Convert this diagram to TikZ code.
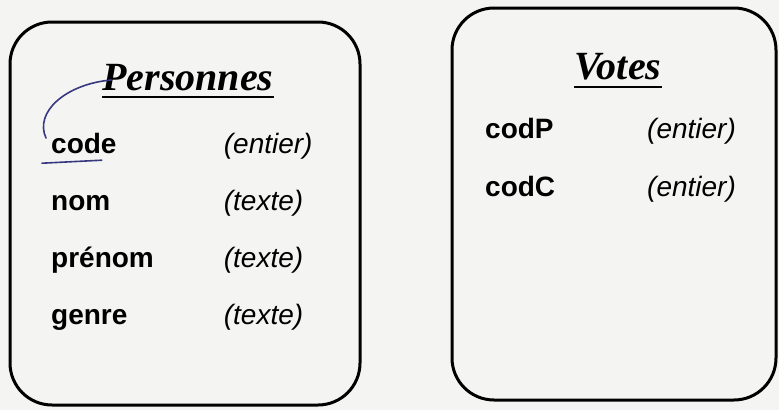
\documentclass[tikz,border=0pt]{standalone}
\usepackage{fontspec}
\setmainfont{Liberation Serif}
\setsansfont{Liberation Sans}
\usepackage{tikz}
\usetikzlibrary{matrix, positioning, calc}
\definecolor{paper}{rgb}{0.955,0.955,0.95}
\definecolor{ink}{rgb}{0.22,0.22,0.50}
\tikzstyle{table} = [draw, line width=3pt, rounded corners=42pt]
\tikzstyle{title} = [inner sep=0pt, anchor=base, font=\fontsize{40}{42}\selectfont\bfseries\itshape]
\tikzstyle{field} = [inner sep=0pt, anchor=west, text height=21pt, text depth=7pt]
\tikzstyle{champ} = [field, font=\fontsize{28}{30}\sffamily\bfseries]
\tikzstyle{type} = [field, font=\fontsize{28}{30}\sffamily\itshape]
\tikzstyle{pen} = [draw=ink, line width=1.6pt, line cap=round]

\begin{document}
\begin{tikzpicture}[x=1pt, y=-1pt]
    \useasboundingbox[fill=paper] (0,0) rectangle (779,410);
    %%% Personnes:
    \draw[table] (10,22) rectangle (360,405);
    \node[title] (ptitle) at (188,90) {Personnes};
    \draw[line width=2.6pt] ([yshift=-7pt]ptitle.base west) -- ([yshift=-7pt]ptitle.base east);
    \matrix[anchor=north west, row sep=29pt, column sep=70pt, inner sep=0pt] at (51,132) {
        \node[champ] (code) {code}; & \node[type] (tcode) {(entier)}; \\
        \node[champ] (nom) {nom}; & \node[type] (tnom) {(texte)}; \\
        \node[champ] (prenom) {prénom}; & \node[type] (tprenom) {(texte)}; \\
        \node[champ] (genre) {genre}; & \node[type] (tgenre) {(texte)}; \\
      };
    %%% Votes:
    \draw[table] (452,8) rectangle (776,400);
    \node[title] (vtitle) at (618,79) {Votes};
    \draw[line width=2.6pt] ([yshift=-8pt]vtitle.base west) -- ([yshift=-8pt]vtitle.base east);
    \matrix[anchor=north west, row sep=30pt, column sep=92pt, inner sep=0pt] at (485,117) {
        \node[champ] (codp) {codP}; & \node[type] (tcodp) {(entier)}; \\
        \node[champ] (codc) {codC}; & \node[type] (tcodc) {(entier)}; \\
      };
    %%% pen marks:
    \path[pen] ([xshift=9pt,yshift=10pt]ptitle.base west) .. controls (66,84) and (34,112) .. ([xshift=-5pt,yshift=-6pt]code.north west);
    \path[pen] ([xshift=-9pt,yshift=-10pt]code.base west) -- ([xshift=-15pt,yshift=-7pt]code.base east);
  \end{tikzpicture}
\end{document}
